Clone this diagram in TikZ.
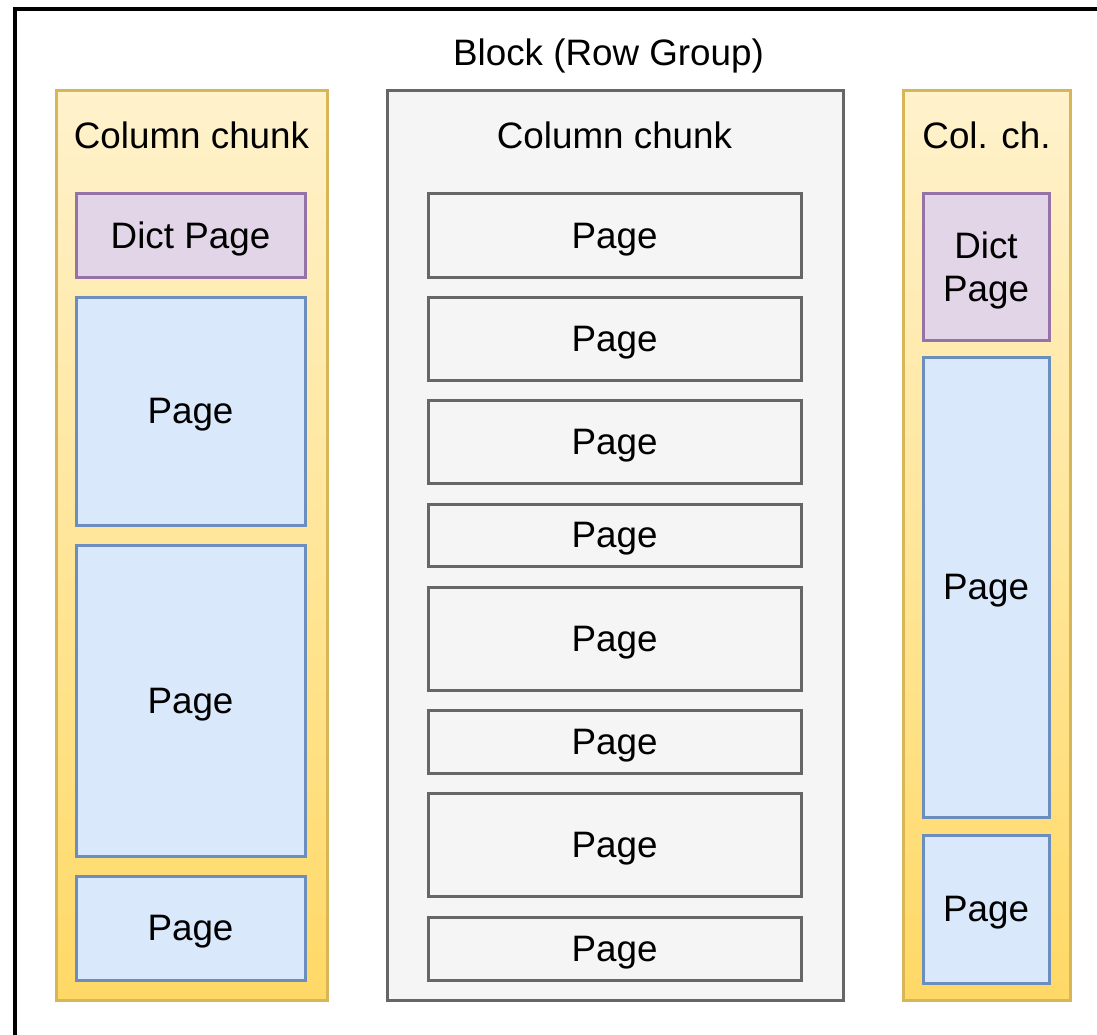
\documentclass[tikz,border=0pt]{standalone}
\usepackage{fontspec}
\setmainfont{Liberation Sans}
\definecolor{ytop}{HTML}{FFF2CC}
\definecolor{ybot}{HTML}{FFD966}
\definecolor{ydraw}{HTML}{D6B656}
\definecolor{gfill}{HTML}{F5F5F5}
\definecolor{gdraw}{HTML}{666666}
\definecolor{bfill}{HTML}{DAE8FC}
\definecolor{bdraw}{HTML}{6C8EBF}
\definecolor{pfill}{HTML}{E1D5E7}
\definecolor{pdraw}{HTML}{9673A6}
\tikzset{
  box/.style={rectangle, inner sep=0pt, outer sep=0pt, line width=3pt, text depth=0pt, align=center},
  ychunk/.style={box, draw=ydraw, top color=ytop, bottom color=ybot},
  gchunk/.style={box, draw=gdraw, fill=gfill},
  bpage/.style={box, draw=bdraw, fill=bfill},
  dpage/.style={box, draw=pdraw, fill=pfill},
  gpage/.style={box, draw=gdraw, fill=gfill},
  lbl/.style={inner sep=0pt, text depth=0pt, align=center},
}
\begin{document}
\begin{tikzpicture}[x=1pt, y=-1pt, font=\fontsize{36.8}{43}\selectfont]
\useasboundingbox (0,0) rectangle (1097,1035);
\clip (0,0) rectangle (1097,1035);
% outer block (extends beyond the picture on the right and bottom)
\node[box, draw=black, line width=3.5pt, minimum width=1200, minimum height=1100, anchor=north west] (block) at (15,9) {};
\node[lbl] (title) at (608.5,52) {Block (Row Group)};

% left column chunk
\node[ychunk, minimum width=271, minimum height=909] (lc) at (191.5,545.5) {};
\node[lbl] (lct) at (191.5,135.5) {Column chunk};
\node[dpage, minimum width=229, minimum height=83] (ld) at (190.5,235.5) {Dict Page};
\node[bpage, minimum width=229, minimum height=228] (lp1) at (190.5,411) {Page};
\node[bpage, minimum width=229, minimum height=311] (lp2) at (190.5,700.5) {Page};
\node[bpage, minimum width=229, minimum height=104] (lp3) at (190.5,928) {Page};

% middle column chunk
\node[gchunk, minimum width=456, minimum height=909] (mc) at (615,545.5) {};
\node[lbl] (mct) at (614.5,135.5) {Column chunk};
\node[gpage, minimum width=373, minimum height=83] (mp1) at (614.5,235.5) {Page};
\node[gpage, minimum width=373, minimum height=83] (mp2) at (614.5,338.5) {Page};
\node[gpage, minimum width=373, minimum height=83] (mp3) at (614.5,441.5) {Page};
\node[gpage, minimum width=373, minimum height=62] (mp4) at (614.5,535) {Page};
\node[gpage, minimum width=373, minimum height=103] (mp5) at (614.5,638.5) {Page};
\node[gpage, minimum width=373, minimum height=63] (mp6) at (614.5,741.5) {Page};
\node[gpage, minimum width=373, minimum height=103] (mp7) at (614.5,844.5) {Page};
\node[gpage, minimum width=373, minimum height=63] (mp8) at (614.5,948.5) {Page};

% right column chunk
\node[ychunk, minimum width=167, minimum height=909] (rc) at (986.5,545.5) {};
\node[lbl] (rct) at (986.5,135.5) {Col. ch.};
\node[dpage, minimum width=126, minimum height=146] (rd) at (986,267) {Dict\\Page};
\node[bpage, minimum width=126, minimum height=460] (rp1) at (986,587) {Page};
\node[bpage, minimum width=126, minimum height=148] (rp2) at (986,909) {Page};
\end{tikzpicture}
\end{document}
